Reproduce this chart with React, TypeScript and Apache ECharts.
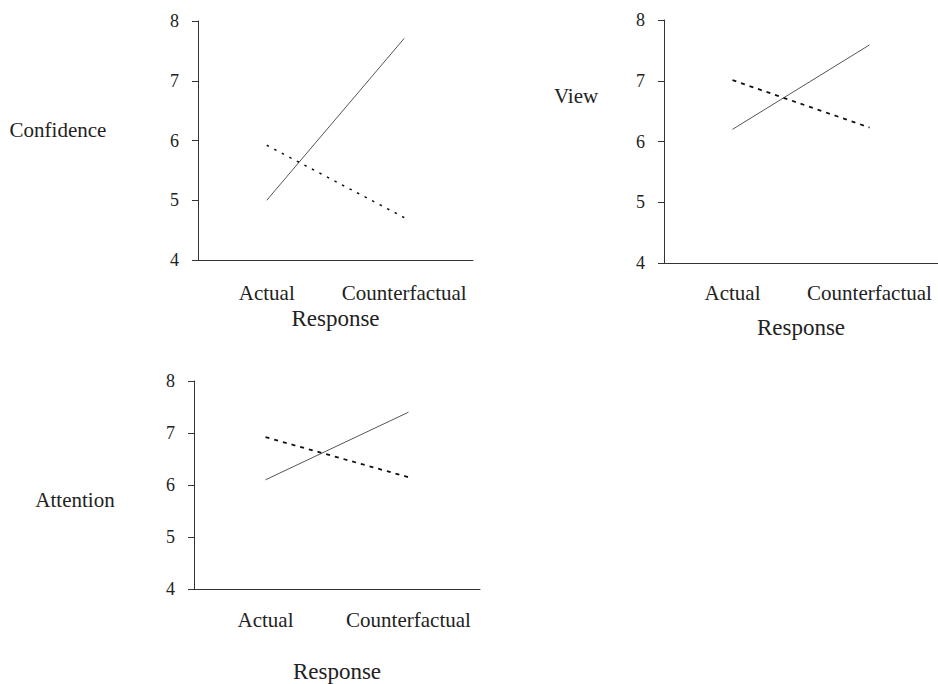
import React, { useEffect, useRef } from "react";
import * as echarts from "echarts";

const categories = ["Actual", "Counterfactual"];
const yTicks = [4, 5, 6, 7, 8];

const confidenceSolid = [5.0, 7.71];
const confidenceDotted = [5.92, 4.71];
const viewSolid = [6.2, 7.59];
const viewDotted = [7.01, 6.23];
const attentionSolid = [6.1, 7.4];
const attentionDotted = [6.92, 6.15];

const panelTitles = ["Confidence", "View", "Attention"];
const xAxisTitle = "Response";

const FONT = "'Liberation Serif', 'Times New Roman', serif";
const TEXT = "#222";

export default function App() {
  const ref = useRef<HTMLDivElement>(null);
  useEffect(() => {
    if (!ref.current) return;
    const chart = echarts.init(ref.current, undefined, { renderer: "svg" });
    const grids = [
      { left: 198, top: 21, width: 275, height: 239 },
      { left: 664, top: 20, width: 274, height: 243 },
      { left: 194, top: 381, width: 286, height: 221 },
    ];
    const catMargins = [22, 19, 20];
    const nameGaps = [47, 53, 71];
    const xAxis = grids.map((_, i) => ({
      type: "category",
      gridIndex: i,
      data: categories,
      boundaryGap: true,
      axisLine: { lineStyle: { color: "#333", width: 1 } },
      axisTick: { show: false },
      axisLabel: { fontFamily: FONT, fontSize: 21, color: TEXT, margin: catMargins[i], interval: 0 },
      name: xAxisTitle,
      nameLocation: "middle",
      nameGap: nameGaps[i],
      nameTextStyle: { fontFamily: FONT, fontSize: 23, color: TEXT },
    }));
    const yAxis = grids.map((_, i) => ({
      type: "value",
      gridIndex: i,
      min: yTicks[0],
      max: yTicks[yTicks.length - 1],
      interval: 1,
      axisLine: { show: true, lineStyle: { color: "#333", width: 1 } },
      axisTick: { show: true, length: 6, lineStyle: { color: "#333" } },
      splitLine: { show: false },
      axisLabel: { fontFamily: FONT, fontSize: 18, color: TEXT, margin: 19 },
    }));
    const pairs = [
      [confidenceSolid, confidenceDotted],
      [viewSolid, viewDotted],
      [attentionSolid, attentionDotted],
    ];
    const series: any[] = [];
    pairs.forEach((p, i) => {
      series.push({
        type: "line",
        name: panelTitles[i] + " (solid)",
        xAxisIndex: i,
        yAxisIndex: i,
        data: p[0],
        showSymbol: false,
        lineStyle: { color: "#555", width: 1, type: "solid" },
      });
      series.push({
        type: "line",
        name: panelTitles[i] + " (dotted)",
        xAxisIndex: i,
        yAxisIndex: i,
        data: p[1],
        showSymbol: false,
        lineStyle: { color: "#111", width: i === 0 ? 1.5 : 1.8, type: i === 0 ? [2.5, 6] : [4, 5] },
      });
    });
    const titlePos = [
      { x: 58, y: 130 },
      { x: 576, y: 96 },
      { x: 75, y: 500 },
    ];
    chart.setOption({
      animation: false,
      backgroundColor: "#fff",
      grid: grids,
      xAxis,
      yAxis,
      series,
      graphic: panelTitles.map((t, i) => ({
        type: "text",
        x: titlePos[i].x,
        y: titlePos[i].y,
        style: {
          text: t,
          fontFamily: FONT,
          fontSize: 21,
          fill: TEXT,
          align: "center",
          verticalAlign: "middle",
        },
      })),
    });
    return () => chart.dispose();
  }, []);
  return (
    <div
      ref={ref}
      style={{ position: "fixed", left: 0, top: 0, width: 938, height: 684, background: "#fff" }}
    />
  );
}
